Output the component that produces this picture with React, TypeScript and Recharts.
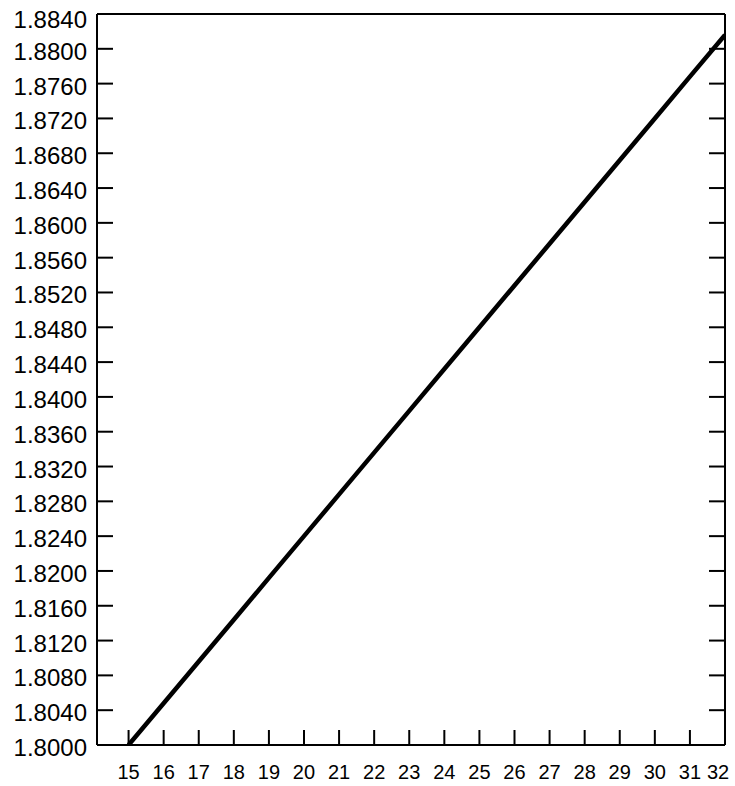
import { LineChart, Line, XAxis, YAxis } from 'recharts';

const xValues = [15, 16, 17, 18, 19, 20, 21, 22, 23, 24, 25, 26, 27, 28, 29, 30, 31, 32];
const yValues = [
  1.8, 1.8048, 1.8096, 1.8144, 1.8192, 1.824, 1.8288, 1.8336, 1.8384, 1.8432, 1.848, 1.8528,
  1.8576, 1.8624, 1.8672, 1.872, 1.8768, 1.8816,
];
const xTicks = [15, 16, 17, 18, 19, 20, 21, 22, 23, 24, 25, 26, 27, 28, 29, 30, 31, 32];
const yTicks = [
  1.8, 1.804, 1.808, 1.812, 1.816, 1.82, 1.824, 1.828, 1.832, 1.836, 1.84, 1.844, 1.848, 1.852,
  1.856, 1.86, 1.864, 1.868, 1.872, 1.876, 1.88, 1.884,
];

const data = xValues.map((x, i) => ({ x, y: yValues[i] }));

const FONT = 'Arial, "Liberation Sans", sans-serif';

// bottom labels; the last one is pulled in so it stays on the page
const XTick = (props: any) => {
  const { x, y, payload } = props;
  const shift = payload.value === 32 ? -7 : 0;
  return (
    <text x={x + shift} y={y} dy={24} textAnchor="middle" fill="#000" fontSize={20} fontFamily={FONT}>
      {payload.value}
    </text>
  );
};

const YTick = (props: any) => {
  const { x, y, payload } = props;
  const down = payload.value >= 1.884 ? 6 : 3;
  return (
    <text x={x} y={y + down} dy={8} textAnchor="end" fill="#000" fontSize={24} fontFamily={FONT}>
      {payload.value.toFixed(4)}
    </text>
  );
};

const NoLabel = () => <g />;

export default function App() {
  return (
    <div style={{ position: 'absolute', left: 0, top: 0 }}>
      <LineChart width={735} height={786} data={data} margin={{ top: 13, right: 9, left: 0, bottom: 0 }}>
        <XAxis
          dataKey="x"
          type="number"
          domain={[14.1, 32]}
          ticks={xTicks}
          interval={0}
          allowDataOverflow
          height={41}
          axisLine={{ stroke: '#000', strokeWidth: 2 }}
          tickLine={{ stroke: '#000', strokeWidth: 2 }}
          tickSize={-15}
          tickMargin={25}
          tick={<XTick />}
        />
        <XAxis
          xAxisId="top"
          orientation="top"
          type="number"
          domain={[14.1, 32]}
          allowDataOverflow
          height={1}
          tick={false}
          tickLine={false}
          axisLine={{ stroke: '#000', strokeWidth: 2 }}
        />
        <YAxis
          type="number"
          domain={[1.8, 1.884]}
          ticks={yTicks}
          interval={0}
          allowDataOverflow
          width={97}
          axisLine={{ stroke: '#000', strokeWidth: 2 }}
          tickLine={{ stroke: '#000', strokeWidth: 2 }}
          tickSize={-16}
          tickMargin={26}
          tick={<YTick />}
        />
        <YAxis
          yAxisId="right"
          orientation="right"
          type="number"
          domain={[1.8, 1.884]}
          ticks={yTicks}
          interval={0}
          allowDataOverflow
          width={1}
          axisLine={{ stroke: '#000', strokeWidth: 2 }}
          tickLine={{ stroke: '#000', strokeWidth: 2 }}
          tickSize={-16}
          tick={<NoLabel />}
        />
        <Line
          dataKey="y"
          stroke="#000"
          strokeWidth={4.5}
          dot={false}
          isAnimationActive={false}
          type="linear"
        />
      </LineChart>
    </div>
  );
}
